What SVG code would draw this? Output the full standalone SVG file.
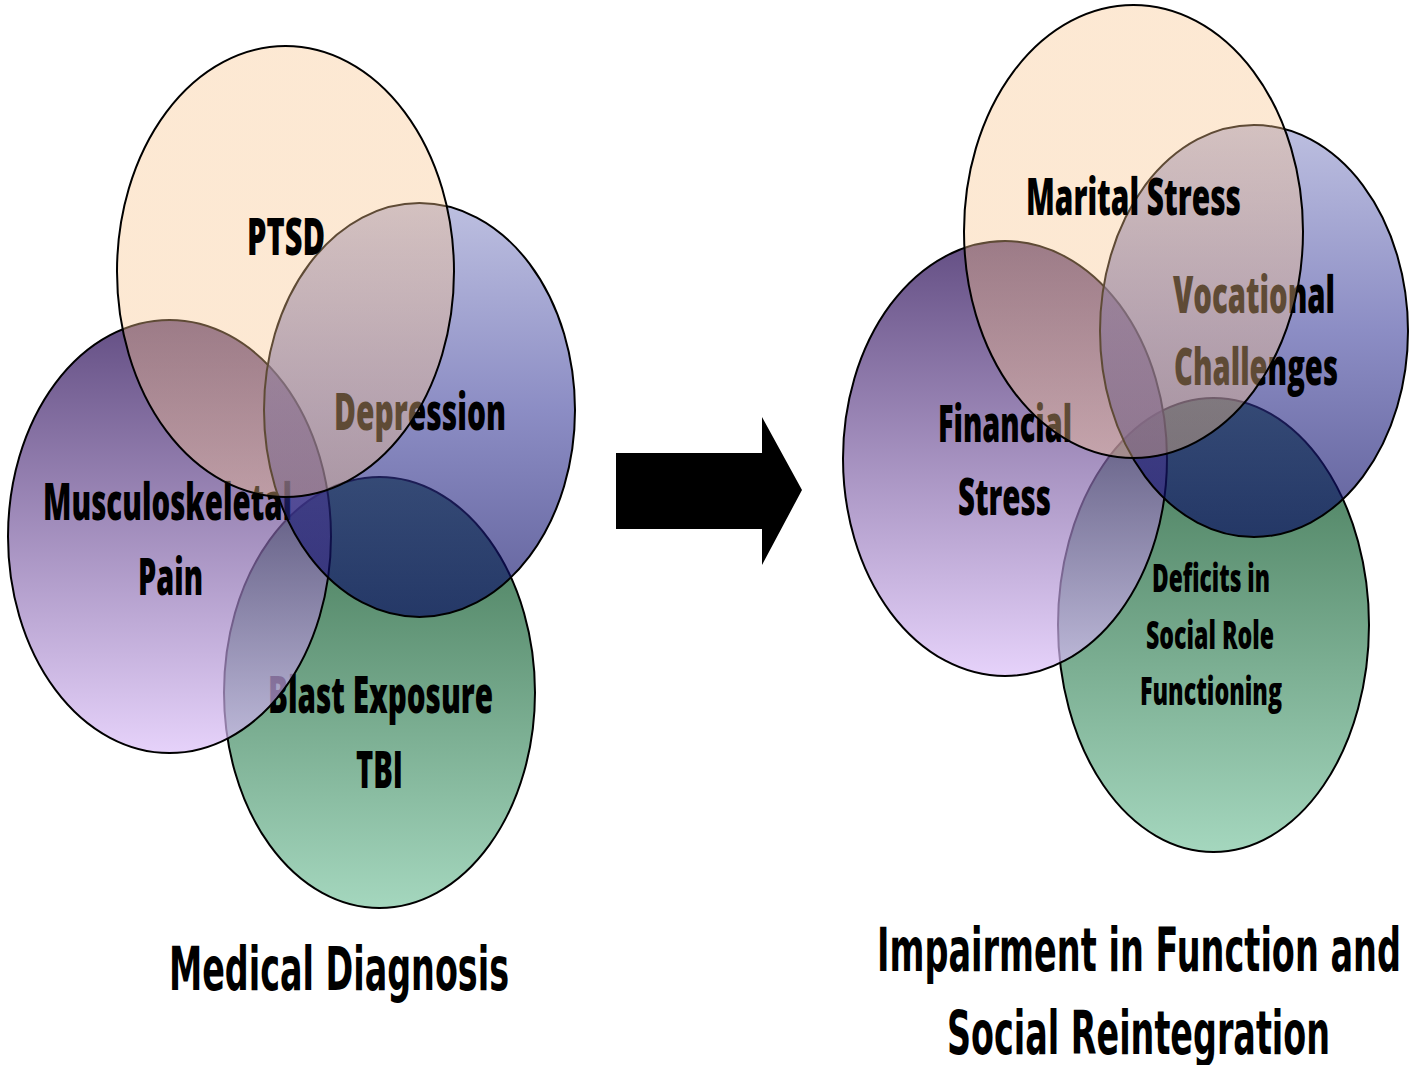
<svg xmlns="http://www.w3.org/2000/svg" width="1409" height="1065" viewBox="0 0 1409 1065">
  <defs>
    <linearGradient id="gPeach" x1="0" y1="0" x2="0" y2="1">
      <stop offset="0" stop-color="#F9C48C"/>
      <stop offset="1" stop-color="#F9C48C"/>
    </linearGradient>
    <linearGradient id="gBlue" x1="0" y1="0" x2="0" y2="1">
      <stop offset="0" stop-color="#9498CD"/>
      <stop offset="0.5" stop-color="#4547A0"/>
      <stop offset="1" stop-color="#00005E"/>
    </linearGradient>
    <linearGradient id="gPurple" x1="0" y1="0" x2="0" y2="1">
      <stop offset="0" stop-color="#220450"/>
      <stop offset="1" stop-color="#DBBFF8"/>
    </linearGradient>
    <linearGradient id="gGreen" x1="0" y1="0" x2="0" y2="1">
      <stop offset="0" stop-color="#00461A"/>
      <stop offset="1" stop-color="#86C9A8"/>
    </linearGradient>
  </defs>
  <style>
    .ell { stroke: #000; stroke-width: 2; }
    .peach { fill: url(#gPeach); fill-opacity: 0.38; }
    .blue { fill: url(#gBlue); fill-opacity: 0.62; }
    .purple { fill: url(#gPurple); fill-opacity: 0.7; }
    .green { fill: url(#gGreen); fill-opacity: 0.75; }
    .lbl { font-family: "Open Sans", "Noto Sans", "DejaVu Sans", sans-serif; font-weight: 800; text-anchor: middle; fill: #000; }
    .big { font-size: 52px; }
    .small { font-size: 38px; }
    .title { font-family: "DejaVu Sans", "Open Sans", sans-serif; font-weight: 700; font-size: 60px; }
  </style>
  <rect x="0" y="0" width="1409" height="1065" fill="#FFFFFF"/>

  <!-- Left group: Medical Diagnosis -->
  <g id="node-blast">
    <ellipse class="ell green" cx="379.5" cy="692.5" rx="155.5" ry="215.5"/>
    <text class="lbl big" x="380.5" y="713" textLength="225" lengthAdjust="spacingAndGlyphs">Blast Exposure</text>
    <text class="lbl big" x="379.5" y="788" textLength="47" lengthAdjust="spacingAndGlyphs">TBI</text>
  </g>
  <g id="node-musculoskeletal">
    <ellipse class="ell purple" cx="169.5" cy="536.5" rx="161.5" ry="216.5"/>
    <text class="lbl big" x="167.5" y="520" textLength="249" lengthAdjust="spacingAndGlyphs">Musculoskeletal</text>
    <text class="lbl big" x="170.5" y="595" textLength="65" lengthAdjust="spacingAndGlyphs">Pain</text>
  </g>
  <g id="node-depression">
    <ellipse class="ell blue" cx="419.5" cy="410" rx="155.5" ry="207"/>
    <text class="lbl big" x="420" y="430" textLength="172" lengthAdjust="spacingAndGlyphs">Depression</text>
  </g>
  <g id="node-ptsd">
    <ellipse class="ell peach" cx="285.5" cy="271.5" rx="168.5" ry="225.5"/>
    <text class="lbl big" x="286" y="255" textLength="78" lengthAdjust="spacingAndGlyphs">PTSD</text>
  </g>

  <!-- Right group: Impairment -->
  <g id="node-deficits">
    <ellipse class="ell green" cx="1213.5" cy="625" rx="155.5" ry="227"/>
    <text class="lbl small" x="1211" y="592" textLength="118" lengthAdjust="spacingAndGlyphs">Deficits in</text>
    <text class="lbl small" x="1210" y="649" textLength="128" lengthAdjust="spacingAndGlyphs">Social Role</text>
    <text class="lbl small" x="1211" y="705" textLength="142" lengthAdjust="spacingAndGlyphs">Functioning</text>
  </g>
  <g id="node-financial">
    <ellipse class="ell purple" cx="1005" cy="458.5" rx="162" ry="217.5"/>
    <text class="lbl big" x="1005" y="442" textLength="134" lengthAdjust="spacingAndGlyphs">Financial</text>
    <text class="lbl big" x="1004.5" y="515" textLength="93" lengthAdjust="spacingAndGlyphs">Stress</text>
  </g>
  <g id="node-vocational">
    <ellipse class="ell blue" cx="1254" cy="331" rx="154" ry="206"/>
    <text class="lbl big" x="1254" y="313" textLength="162" lengthAdjust="spacingAndGlyphs">Vocational</text>
    <text class="lbl big" x="1256" y="385" textLength="164" lengthAdjust="spacingAndGlyphs">Challenges</text>
  </g>
  <g id="node-marital">
    <ellipse class="ell peach" cx="1133.5" cy="231.5" rx="169.5" ry="226.5"/>
    <text class="lbl big" x="1133.5" y="215" textLength="215" lengthAdjust="spacingAndGlyphs">Marital Stress</text>
  </g>

  <!-- Connectors -->
  <g id="connectors">
    <polygon points="616,453 762,453 762,417 802,490 762,565 762,529 616,529" fill="#000000"/>
  </g>

  <!-- Titles -->
  <g id="titles">
    <text class="lbl title" x="339" y="990" textLength="340" lengthAdjust="spacingAndGlyphs">Medical Diagnosis</text>
    <text class="lbl title" x="1139" y="971" textLength="524" lengthAdjust="spacingAndGlyphs">Impairment in Function and</text>
    <text class="lbl title" x="1138.5" y="1054" textLength="383" lengthAdjust="spacingAndGlyphs">Social Reintegration</text>
  </g>
</svg>
